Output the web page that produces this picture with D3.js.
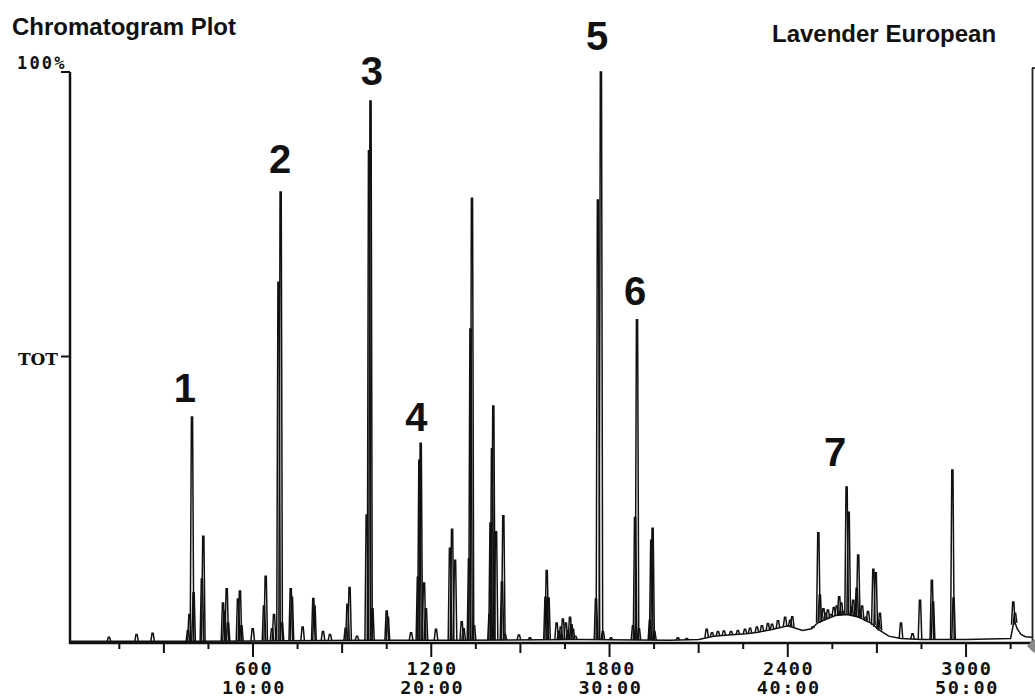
<!DOCTYPE html>
<html><head><meta charset="utf-8">
<script src="https://cdn.jsdelivr.net/npm/d3@7"></script>
<style>body{margin:0;background:#fff}svg{display:block}</style>
</head><body><svg id="c" width="1035" height="699"></svg>
<script>
// ---- data (scan number, % of total ion current) ----
const peaks = [
 [115,1.0],[208,1.5],[262,1.7],[381,2.2],[386,5],[394.6,39.6],[400,8.8],[428,11.2],[432.7,18.7],
 [499,7.0],[504,5.5],[511.5,9.5],[516,3.5],[549.5,7.7],[556,9.1],[561,3],[599,2.5],[637,6.5],[642.7,11.7],
 [664,2.5],[670.7,5],[685.8,63.2],[693,79.0],[697.5,3.5],[727,9.5],[731,8],[767,2.8],[803,7.8],[807,6.5],
 [835.6,2],[859,1.5],[912,2.6],[918,6.8],[925,9.7],[950,1.2],[982.7,22.4],[990.5,86.2],[995.5,94.9],[1002,6],
 [1050,5.6],[1054,4.5],[1132,1.8],[1155,11.5],[1160,32],[1164.5,35],[1175.6,10.5],[1182,6],[1216,2.4],
 [1263,16.6],[1270,19.9],[1280,14.5],[1302.5,3.7],[1309,2.5],[1327,14.7],[1332,55],[1337,77.9],[1344,3],
 [1396,5],[1399.6,21],[1404.5,34],[1408.8,41.5],[1418,19.5],[1438,10.7],[1442.5,22.3],[1448,1.5],
 [1495,1.4],[1532,0.9],[1584.5,8.0],[1588.7,12.7],[1594.7,7.9],[1622,3.5],[1630,2],[1636,2.8],[1643,4.2],
 [1653,3.5],[1660,2.2],[1667,4.5],[1672,3.2],[1677,2.4],[1685,1.2],[1754.5,7.7],[1761,77.6],[1771,100],
 [1777.6,2],[1805,0.9],[1879,3],[1886,22],[1892.5,56.6],[1899,2.5],[1936,4],[1940.5,18],[1945,20.1],[1951,2],
 [2030,0.9],[2060,0.8],[2127,2.4],[2145,1.8],[2165,2.0],[2185,2.1],[2209,2.0],[2232,2.2],[2256,2.4],
 [2273,2.6],[2296,2.8],[2313,3.0],[2333,3.4],[2347,3.3],[2367,3.9],[2391,4.5],[2408,4.0],[2415,4.6],
 [2484,2.8],[2502.8,19.3],[2508,8.4],[2520,6],[2527,5.2],[2535,5.8],[2545,5],[2555,6.2],[2565,6.5],
 [2573,8.1],[2580,7],[2586,5.5],[2598,27.3],[2605,22.9],[2615,6.3],[2620,7.5],[2632,9.6],[2637,15.4],
 [2643,5.8],[2650,6.5],[2663,4.5],[2670,5.5],[2688,12.9],[2696,12.3],[2705,4],[2710,5.2],[2781,3.5],
 [2820,1.6],[2845,7.5],[2885,11],[2889,7.2],[2954,30.3],[2958,7.9],[3159,7.2],[3165,5.2]
];
const baseline = [
 [-16,0.3],[400,0.3],[700,0.4],[1000,0.5],[1300,0.5],[1700,0.6],[2000,0.5],[2100,0.6],[2150,1.2],
 [2200,1.4],[2260,1.6],[2300,1.9],[2350,2.4],[2400,3.0],[2450,2.2],[2480,2.5],[2500,3.5],[2530,4.2],
 [2560,4.8],[2600,5.0],[2640,4.5],[2680,3.5],[2710,2.2],[2740,1.2],[2780,0.8],[2850,0.6],[3000,0.6],
 [3150,0.8],[3162,4],[3172,2.5],[3185,1.5],[3200,1.1],[3222,1.0]
];
const majorTicks = [600,1200,1800,2400,3000];
const scanLabels = ["600","1200","1800","2400","3000"];
const timeLabels = ["10:00","20:00","30:00","40:00","50:00"];
const peakLabels = [["1",371,42.2],["2",691,82.3],["3",1000.5,97.7],["4",1150,37.1],["5",1758,103.8],["6",1886,59.2],["7",2559,31.0]];
const yLabels = [["100%",100],["TOT",50]];

// ---- drawing ----
const svg = d3.select("#c");
const x = d3.scaleLinear().domain([-16,3222]).range([70,1032]);
const y = d3.scaleLinear().domain([0,100]).range([643,72]);
const baseAt = d3.scaleLinear().domain(baseline.map(d=>d[0])).range(baseline.map(d=>d[1])).clamp(true);
const line = d3.line().x(d=>x(d[0])).y(d=>y(d[1]));

const sans = "Liberation Sans, Arial, sans-serif";
svg.append("text").attr("x",12).attr("y",35).text("Chromatogram Plot")
  .attr("font-family",sans).attr("font-weight","bold").attr("font-size",24).attr("fill","#111");
svg.append("text").attr("x",772).attr("y",42).text("Lavender European")
  .attr("font-family",sans).attr("font-weight","bold").attr("font-size",24).attr("fill","#111");

// trace
const g = svg.append("g").attr("fill","none").attr("stroke","#111").attr("stroke-width",1.5);
g.append("path").attr("d",line(baseline));
const HW = 6, TW = 2;
peaks.forEach(([u,h])=>{
  const b = baseAt(u);
  g.append("path").attr("d",line([[u-HW,b],[u-TW,h],[u+TW,h],[u+HW,b]]));
});

// axes
svg.append("line").attr("x1",70).attr("x2",70).attr("y1",y(100)).attr("y2",644).attr("stroke","#111").attr("stroke-width",2.5);
svg.append("line").attr("x1",69).attr("x2",1035).attr("y1",643).attr("y2",643).attr("stroke","#111").attr("stroke-width",2.4);
svg.append("line").attr("x1",1032.5).attr("x2",1032.5).attr("y1",68).attr("y2",643).attr("stroke","#222").attr("stroke-width",1.8);
svg.append("line").attr("x1",1032).attr("x2",1035).attr("y1",68).attr("y2",68).attr("stroke","#222").attr("stroke-width",1.8);

const ticks = d3.range(150,3222,150);
svg.append("g").selectAll("line").data(ticks).join("line")
  .attr("x1",d=>x(d)).attr("x2",d=>x(d)).attr("y1",643)
  .attr("y2",d=> d%600===0 ? 657 : (d%300===0 ? 653 : 649))
  .attr("stroke","#111").attr("stroke-width",2);

const mono = "DejaVu Sans Mono, Liberation Mono, monospace";
const tl = svg.append("g").attr("font-family",mono).attr("font-weight","bold").attr("font-size",18.5)
  .attr("letter-spacing",1.7).attr("fill","#111").attr("text-anchor","middle");
majorTicks.forEach((t,i)=>{
  tl.append("text").attr("x",x(t)+1).attr("y",675).text(scanLabels[i]);
  tl.append("text").attr("x",x(t)+1).attr("y",694).text(timeLabels[i]);
});

// y labels
svg.append("line").attr("x1",61).attr("x2",70).attr("y1",y(100)).attr("y2",y(100)).attr("stroke","#111").attr("stroke-width",2);
svg.append("line").attr("x1",61).attr("x2",70).attr("y1",y(50)-1).attr("y2",y(50)-1).attr("stroke","#111").attr("stroke-width",2);
svg.append("text").attr("x",17).attr("y",y(100)-3).text(yLabels[0][0])
  .attr("font-family",mono).attr("font-weight","bold").attr("font-size",17).attr("letter-spacing",2.2).attr("fill","#111");
svg.append("text").attr("x",58).attr("y",y(50)+7).text(yLabels[1][0]).attr("text-anchor","end")
  .attr("font-family","DejaVu Serif, Liberation Serif, serif").attr("font-weight","bold").attr("font-size",17).attr("fill","#111");

// peak numbers
svg.append("g").selectAll("text").data(peakLabels).join("text")
  .attr("x",d=>x(d[1])).attr("y",d=>y(d[2])).text(d=>d[0])
  .attr("text-anchor","middle").attr("font-family",sans)
  .attr("font-weight","bold").attr("font-size",40).attr("fill","#111");

// end marker
svg.append("path").attr("d","M1034,639 L1041,646 L1034,653 L1027,646 Z").attr("fill","#8a8a8a");
</script></body></html>
